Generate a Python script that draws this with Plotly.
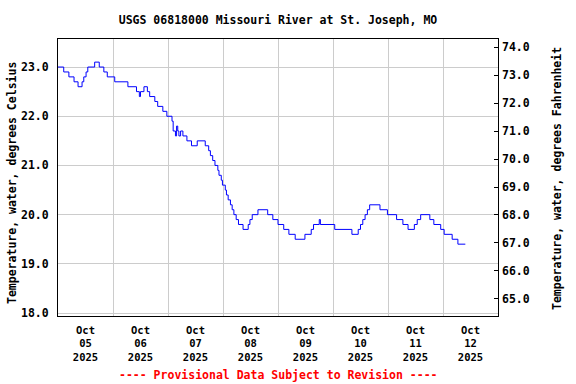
import plotly.graph_objects as go

# Change points of the (step) temperature record, deg C
times = [
    "2025-10-05 00:00", "2025-10-05 02:30", "2025-10-05 04:45", "2025-10-05 07:00",
    "2025-10-05 08:45", "2025-10-05 10:30", "2025-10-05 11:15", "2025-10-05 12:15",
    "2025-10-05 13:00", "2025-10-05 16:00", "2025-10-05 18:00", "2025-10-05 20:00",
    "2025-10-05 21:30", "2025-10-06 00:45", "2025-10-06 06:30", "2025-10-06 10:15",
    "2025-10-06 11:30", "2025-10-06 12:00", "2025-10-06 13:30", "2025-10-06 15:00",
    "2025-10-06 16:00", "2025-10-06 18:15", "2025-10-06 19:30", "2025-10-06 21:45",
    "2025-10-06 23:30", "2025-10-07 01:45", "2025-10-07 02:15", "2025-10-07 03:15",
    "2025-10-07 03:45", "2025-10-07 04:15", "2025-10-07 04:45", "2025-10-07 05:30",
    "2025-10-07 06:30", "2025-10-07 08:15", "2025-10-07 10:15", "2025-10-07 12:45",
    "2025-10-07 16:15", "2025-10-07 17:45", "2025-10-07 18:30", "2025-10-07 19:30",
    "2025-10-07 20:30", "2025-10-07 21:45", "2025-10-07 22:15", "2025-10-07 23:15",
    "2025-10-07 23:45", "2025-10-08 01:00", "2025-10-08 01:30", "2025-10-08 02:15",
    "2025-10-08 03:15", "2025-10-08 04:00", "2025-10-08 04:45", "2025-10-08 05:45",
    "2025-10-08 06:45", "2025-10-08 08:45", "2025-10-08 11:00", "2025-10-08 11:45",
    "2025-10-08 12:45", "2025-10-08 15:15", "2025-10-08 19:30", "2025-10-08 21:45",
    "2025-10-09 00:00", "2025-10-09 02:30", "2025-10-09 04:45", "2025-10-09 07:30",
    "2025-10-09 11:45", "2025-10-09 14:30", "2025-10-09 15:30", "2025-10-09 18:00",
    "2025-10-09 18:30", "2025-10-10 00:45", "2025-10-10 08:15", "2025-10-10 11:00",
    "2025-10-10 12:00", "2025-10-10 13:00", "2025-10-10 14:00", "2025-10-10 15:00",
    "2025-10-10 16:00", "2025-10-10 20:30", "2025-10-10 23:45", "2025-10-11 03:45",
    "2025-10-11 06:30", "2025-10-11 08:45", "2025-10-11 11:30", "2025-10-11 12:45",
    "2025-10-11 14:15", "2025-10-11 18:15", "2025-10-11 20:00", "2025-10-11 23:00",
    "2025-10-12 00:30", "2025-10-12 04:00", "2025-10-12 06:30", "2025-10-12 09:45",
]
temps_c = [
    23.0, 22.9, 22.8, 22.7,
    22.6, 22.7, 22.8, 22.9,
    23.0, 23.1, 23.0, 22.9,
    22.8, 22.7, 22.6, 22.5,
    22.4, 22.5, 22.6, 22.5,
    22.4, 22.3, 22.2, 22.1,
    22.0, 21.9, 21.7, 21.6,
    21.8, 21.7, 21.6, 21.7,
    21.6, 21.5, 21.4, 21.5,
    21.4, 21.3, 21.2, 21.1,
    21.0, 20.9, 20.8, 20.7,
    20.6, 20.5, 20.4, 20.3,
    20.2, 20.1, 20.0, 19.9,
    19.8, 19.7, 19.8, 19.9,
    20.0, 20.1, 20.0, 19.9,
    19.8, 19.7, 19.6, 19.5,
    19.6, 19.7, 19.8, 19.9,
    19.8, 19.7, 19.6, 19.7,
    19.8, 19.9, 20.0, 20.1,
    20.2, 20.1, 20.0, 19.9,
    19.8, 19.7, 19.8, 19.9,
    20.0, 19.9, 19.8, 19.7,
    19.6, 19.5, 19.4, 19.4,
]

x_tick_vals = ["2025-10-05 12:00", "2025-10-06 12:00", "2025-10-07 12:00", "2025-10-08 12:00",
               "2025-10-09 12:00", "2025-10-10 12:00", "2025-10-11 12:00", "2025-10-12 12:00"]
x_tick_text = ["Oct<br>05<br>2025", "Oct<br>06<br>2025", "Oct<br>07<br>2025", "Oct<br>08<br>2025",
               "Oct<br>09<br>2025", "Oct<br>10<br>2025", "Oct<br>11<br>2025", "Oct<br>12<br>2025"]
x_range = ["2025-10-05 00:00", "2025-10-13 00:00"]
c_range = [17.94, 23.57]
f_range = [64.39, 74.29]

title = "USGS 06818000 Missouri River at St. Joseph, MO"
y_title = "Temperature, water, degrees Celsius"
y2_title = "Temperature, water, degrees Fahrenheit"
footer = "---- Provisional Data Subject to Revision ----"

FONT = "DejaVu Sans Mono"
fnt = dict(family=FONT, size=11.5, color="black", weight="bold")

fig = go.Figure()
fig.add_trace(go.Scatter(x=times, y=temps_c, mode="lines", line=dict(color="#0000ff", width=1, shape="hv"),
                         showlegend=False, hoverinfo="skip"))
fig.add_trace(go.Scatter(x=times, y=[t * 9 / 5 + 32 for t in temps_c], yaxis="y2", mode="lines",
                         line=dict(color="rgba(0,0,0,0)", width=0), showlegend=False, hoverinfo="skip"))

fig.update_layout(
    width=576, height=384,
    margin=dict(l=58, r=78, t=39, b=68),
    paper_bgcolor="white", plot_bgcolor="white",
    font=fnt,
    title=dict(text=title, x=0.5, xref="paper", xanchor="center", y=1 - 20 / 384, yref="container",
               yanchor="middle", font=fnt),
    xaxis=dict(range=x_range, type="date", tickmode="array", tickvals=x_tick_vals, ticktext=x_tick_text,
               showgrid=False, showline=True, linecolor="black", linewidth=1, mirror=True,
               ticks="outside", ticklen=4, tickcolor="rgba(0,0,0,0)",
               tickfont=dict(family=FONT, size=10.5, weight="bold"),
               minor=dict(tickmode="linear", tick0="2025-10-05", dtick=86400000, showgrid=True,
                          gridcolor="#cccccc", gridwidth=1, ticks=""),
               zeroline=False),
    yaxis=dict(range=c_range, tickmode="linear", tick0=18, dtick=1, tickformat=".1f",
               showgrid=True, gridcolor="#cccccc", gridwidth=1, showline=True, linecolor="black",
               linewidth=1, mirror=True, ticks="", ticklabelstandoff=6, zeroline=False),
    yaxis2=dict(range=f_range, overlaying="y", side="right", tickmode="linear", tick0=65, dtick=1,
                tickformat=".1f", showgrid=False, showline=False, ticks="inside", ticklen=4,
                tickcolor="black", ticklabelstandoff=3, zeroline=False),
    annotations=[
        dict(text=y_title, textangle=-90, x=(12 - 58) / 440, y=(316 - 183) / 277, xref="paper", yref="paper",
             xanchor="center", yanchor="middle", showarrow=False, font=fnt),
        dict(text=y2_title, textangle=-90, x=(557 - 58) / 440, y=(316 - 179) / 277, xref="paper", yref="paper",
             xanchor="center", yanchor="middle", showarrow=False, font=fnt),
        dict(text=footer, x=0.5, y=(316 - 375) / 277, xref="paper", yref="paper", xanchor="center",
             yanchor="middle", showarrow=False, font=dict(family=FONT, size=11.5, color="#ff0000", weight="bold")),
    ],
)

fig.write_html("out.html", config={"displayModeBar": False},
               post_script="document.body.style.margin='0';document.body.style.padding='0';")
